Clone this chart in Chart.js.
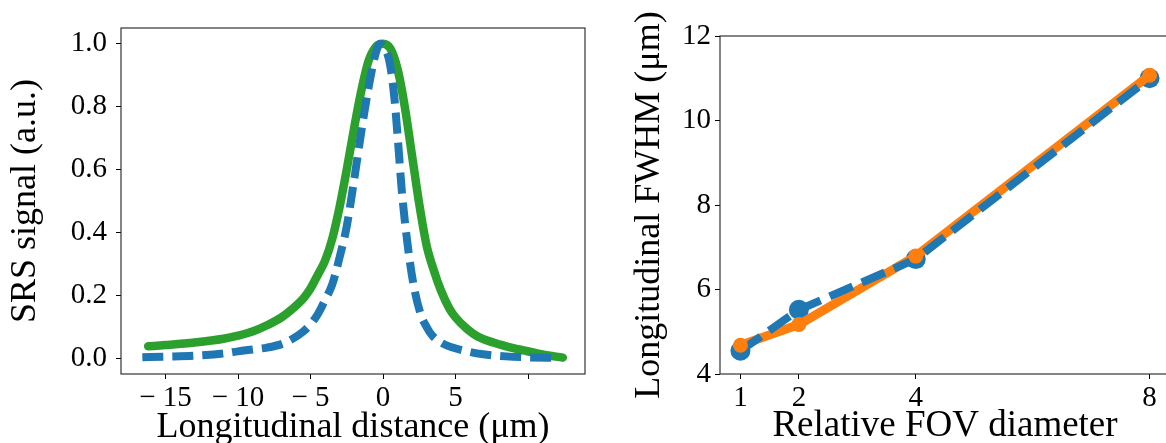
<!DOCTYPE html>
<html>
<head>
<meta charset="utf-8">
<script src="https://cdn.jsdelivr.net/npm/chart.js@4/dist/chart.umd.min.js"></script>
<style>
  html, body { margin: 0; padding: 0; background: #fff; width: 1166px; height: 443px; overflow: hidden; position: relative; }
  #wl { position: absolute; left: 0; top: 0; width: 600px; height: 443px; }
  #wr { position: absolute; left: 600px; top: 0; width: 580px; height: 443px; }
</style>
</head>
<body>
<div id="wl"><canvas id="cl" width="600" height="443"></canvas></div>
<div id="wr"><canvas id="cr" width="580" height="443"></canvas></div>
<script>
// ---- Left panel data ----
const distGreen = [-16.2, -15, -13, -11, -10, -9, -8, -7, -6.3, -5.5, -5.0, -4.5, -4.0, -3.5, -3.0, -2.5, -2.0, -1.5, -1.0, -0.5, 0, 0.5, 1.0, 1.5, 2.0, 2.5, 3.0, 3.5, 4.0, 4.6, 5.0, 5.8, 6.5, 7.6, 8.5, 9.7, 11, 12.4];
const srsGreen  = [0.038, 0.042, 0.050, 0.062, 0.072, 0.085, 0.105, 0.13, 0.155, 0.19, 0.222, 0.265, 0.31, 0.38, 0.48, 0.60, 0.73, 0.85, 0.945, 0.99, 1.0, 0.985, 0.92, 0.80, 0.645, 0.49, 0.36, 0.28, 0.215, 0.156, 0.13, 0.093, 0.07, 0.05, 0.038, 0.025, 0.012, 0.002];
const distBlue  = [-16.6, -15, -13, -11, -10, -9, -8, -7, -6.3, -5.5, -5.0, -4.5, -4.0, -3.5, -3.0, -2.5, -2.0, -1.5, -1.0, -0.5, -0.2, 0.2, 0.5, 0.8, 1.05, 1.3, 1.7, 2.1, 2.6, 3.0, 3.4, 4.0, 4.8, 5.8, 6.9, 8.5, 10, 12.1];
const srsBlue   = [0.003, 0.005, 0.008, 0.015, 0.022, 0.028, 0.034, 0.045, 0.06, 0.085, 0.108, 0.14, 0.185, 0.235, 0.32, 0.42, 0.565, 0.72, 0.86, 0.97, 1.0, 0.98, 0.93, 0.82, 0.68, 0.53, 0.36, 0.235, 0.14, 0.10, 0.072, 0.05, 0.034, 0.022, 0.013, 0.006, 0.003, 0.001];
const leftXTicks = [-15, -10, -5, 0, 5, 10];
const leftXTickLabels = ['\u2212 15', '\u2212 10', '\u2212 5', '0', '5', ''];
const leftYTicks = [0, 0.2, 0.4, 0.6, 0.8, 1.0];
const leftYTickLabels = ['0.0', '0.2', '0.4', '0.6', '0.8', '1.0'];

// ---- Right panel data ----
const fovDiameter = [1, 2, 4, 8];
const fwhmBlue    = [4.55, 5.52, 6.72, 11.0];
const fwhmOrange  = [4.68, 5.17, 6.79, 11.07];
const rightXTicks = [1, 2, 4, 8];
const rightYTicks = [4, 6, 8, 10, 12];

const BLUE = '#1f77b4', GREEN = '#2ca02c', ORANGE = '#ff7f0e';
const FONT = "'Liberation Serif', 'DejaVu Serif', serif";

const pts = (xs, ys) => xs.map((x, i) => ({ x: x, y: ys[i] }));
const fixTicks = (arr) => (s) => { s.ticks = arr.map(v => ({ value: v })); };

const boxPlugin = {
  id: 'box',
  afterDraw(chart) {
    const a = chart.chartArea, ctx = chart.ctx;
    ctx.save();
    ctx.strokeStyle = '#222';
    ctx.lineWidth = 1.1;
    ctx.strokeRect(a.left, a.top, a.right - a.left, a.bottom - a.top);
    ctx.restore();
  }
};

const tickFont = { family: FONT, size: 29 };
const titleFont = { family: FONT, size: 36, lineHeight: 1.2 };

new Chart(document.getElementById('cl'), {
  type: 'scatter',
  data: {
    datasets: [
      { data: pts(distBlue, srsBlue), showLine: true, borderColor: BLUE, borderWidth: 8, borderDash: [21, 9],
        borderCapStyle: 'butt', pointRadius: 0, cubicInterpolationMode: 'monotone', order: 0 },
      { data: pts(distGreen, srsGreen), showLine: true, borderColor: GREEN, borderWidth: 8.5,
        borderCapStyle: 'round', pointRadius: 0, cubicInterpolationMode: 'monotone', order: 1 }
    ]
  },
  options: {
    responsive: false, animation: false, devicePixelRatio: 1,
    layout: { padding: { top: 28, right: 15, left: 0, bottom: 0 } },
    plugins: { legend: { display: false }, tooltip: { enabled: false } },
    scales: {
      x: {
        type: 'linear', min: -18.07, max: 13.93,
        afterBuildTicks: fixTicks(leftXTicks),
        afterFit: s => { s.height = 69; },
        grid: { drawOnChartArea: false, drawTicks: true, tickLength: 5, tickColor: '#000', tickWidth: 1 },
        border: { display: false },
        ticks: { font: tickFont, color: '#000', padding: 2, maxRotation: 0, autoSkip: false,
          callback: (v) => { const i = leftXTicks.indexOf(v); return i >= 0 ? leftXTickLabels[i] : ''; } },
        title: { display: true, text: 'Longitudinal distance (\u03bcm)', color: '#000',
          font: { family: FONT, size: 36, lineHeight: 0.8 }, padding: { top: 0, bottom: 1.5 } }
      },
      y: {
        min: -0.05, max: 1.05,
        afterBuildTicks: fixTicks(leftYTicks),
        afterFit: s => { s.width = 121; },
        grid: { drawOnChartArea: false, drawTicks: true, tickLength: 5, tickColor: '#000', tickWidth: 1 },
        border: { display: false },
        ticks: { font: tickFont, color: '#000', padding: 9, autoSkip: false,
          callback: (v) => { const i = leftYTicks.findIndex(t => Math.abs(t - v) < 1e-9); return i >= 0 ? leftYTickLabels[i] : ''; } },
        title: { display: true, text: 'SRS signal (a.u.)', color: '#000', font: titleFont, padding: { top: 4, bottom: 0 } }
      }
    }
  },
  plugins: [boxPlugin]
});

new Chart(document.getElementById('cr'), {
  type: 'scatter',
  data: {
    datasets: [
      { data: pts(fovDiameter, fwhmOrange), showLine: false, pointRadius: 7.5, pointBackgroundColor: ORANGE,
        pointBorderWidth: 0, order: 0 },
      { data: pts(fovDiameter, fwhmBlue), showLine: true, borderColor: BLUE, borderWidth: 8, borderDash: [25, 10],
        borderCapStyle: 'butt', pointRadius: 0, order: 1 },
      { data: pts(fovDiameter, fwhmOrange), showLine: true, borderColor: ORANGE, borderWidth: 9,
        borderCapStyle: 'round', borderJoinStyle: 'round', pointRadius: 0, order: 2 },
      { data: pts(fovDiameter, fwhmBlue), showLine: false, pointRadius: 10, pointBackgroundColor: BLUE,
        pointBorderWidth: 0, order: 3 }
    ]
  },
  options: {
    responsive: false, animation: false, devicePixelRatio: 1,
    layout: { padding: { top: 36, right: 5.3, left: 0, bottom: 0 } },
    plugins: { legend: { display: false }, tooltip: { enabled: false } },
    scales: {
      x: {
        type: 'linear', min: 0.65, max: 8.35,
        afterBuildTicks: fixTicks(rightXTicks),
        afterFit: s => { s.height = 69; },
        grid: { drawOnChartArea: false, drawTicks: true, tickLength: 5, tickColor: '#000', tickWidth: 1 },
        border: { display: false },
        ticks: { font: tickFont, color: '#000', padding: 2, maxRotation: 0, autoSkip: false,
          callback: (v) => String(v) },
        title: { display: true, text: 'Relative FOV diameter', color: '#000',
          font: { family: FONT, size: 37, lineHeight: 0.8 }, padding: { top: 0, bottom: 1.5 } }
      },
      y: {
        min: 4, max: 12,
        afterBuildTicks: fixTicks(rightYTicks),
        afterFit: s => { s.width = 120; },
        grid: { drawOnChartArea: false, drawTicks: true, tickLength: 5, tickColor: '#000', tickWidth: 1 },
        border: { display: false },
        ticks: { font: tickFont, color: '#000', padding: 4, autoSkip: false, callback: (v) => String(v) },
        title: { display: true, text: 'Longitudinal FWHM (\u03bcm)', color: '#000', font: titleFont, padding: { top: 28, bottom: 0 } }
      }
    }
  },
  plugins: [boxPlugin]
});
</script>
</body>
</html>
